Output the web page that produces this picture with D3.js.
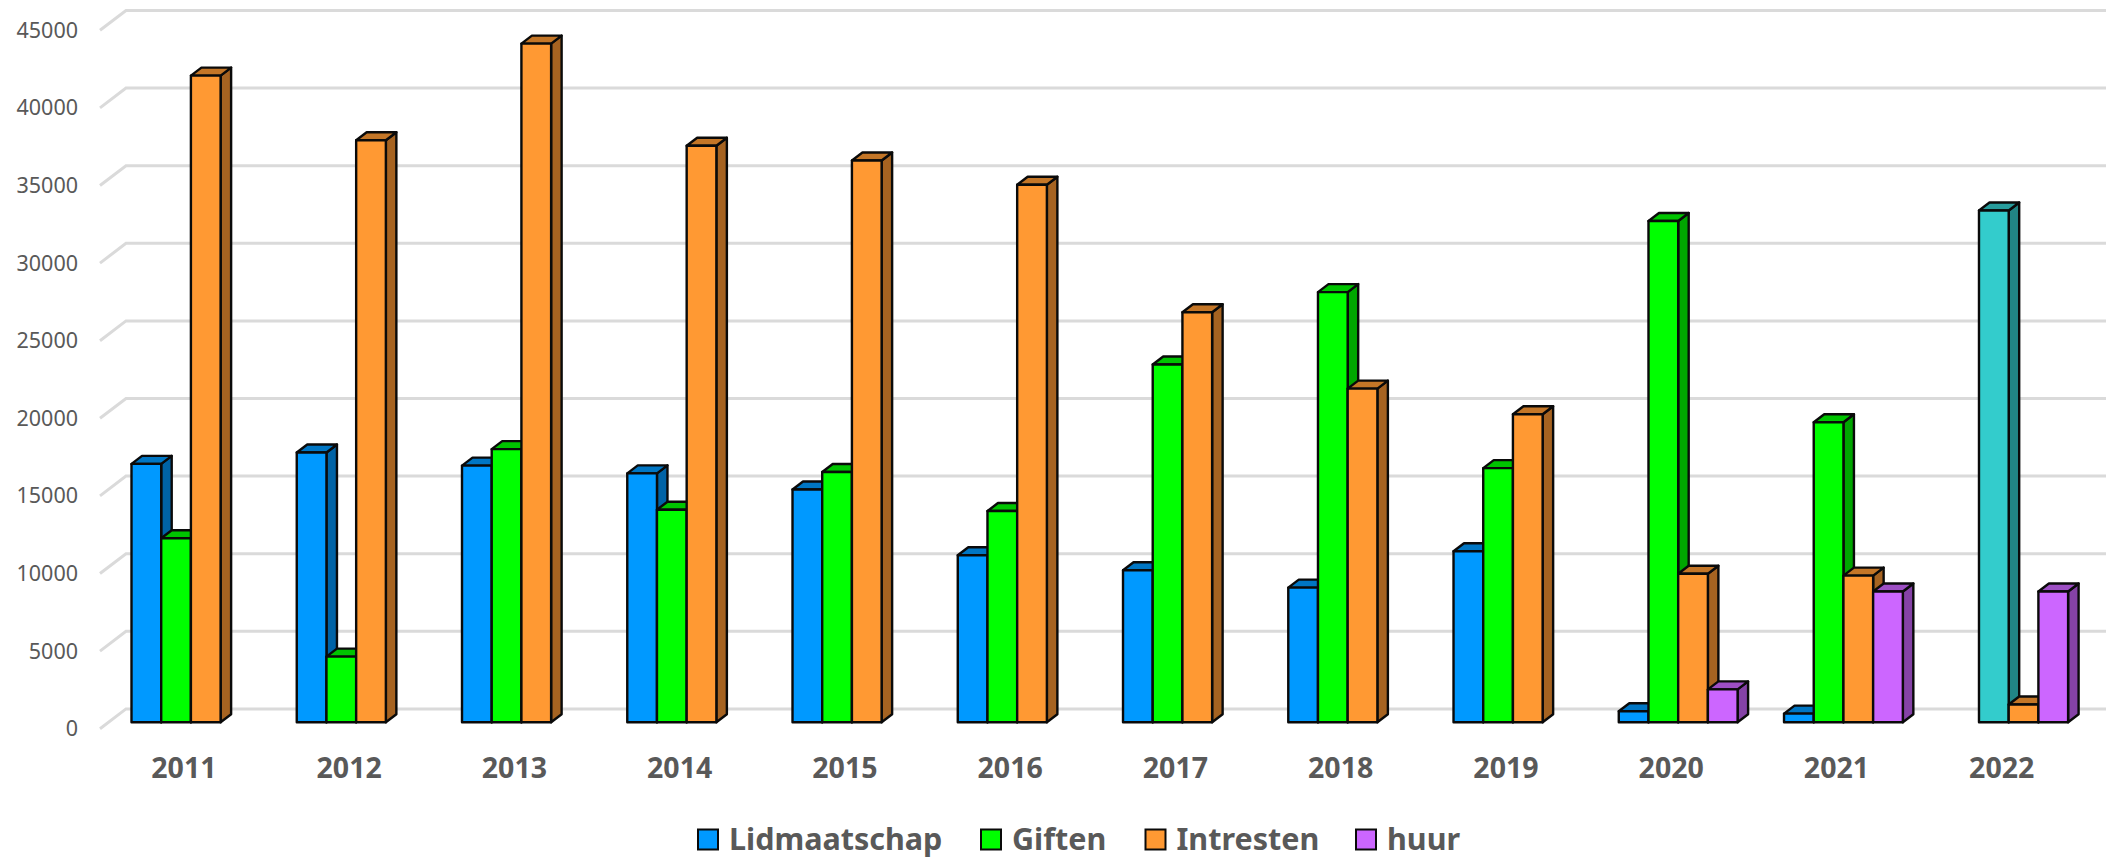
<!DOCTYPE html>
<html><head><meta charset="utf-8">
<script src="https://cdnjs.cloudflare.com/ajax/libs/d3/7.8.5/d3.min.js"></script>
<style>html,body{margin:0;padding:0;background:#fff}svg{display:block}text{font-family:"Noto Sans","Open Sans",sans-serif}</style>
</head><body><svg id="c" width="2106" height="858"></svg>
<script>
const years=["2011","2012","2013","2014","2015","2016","2017","2018","2019","2020","2021","2022"];
const seriesNames=["Lidmaatschap","Giften","Intresten","huur"];
const lidmaatschap=[16650,17380,16540,16040,15000,10760,9800,8680,11020,715,560,null];
const giften=[11860,4230,17600,13700,16130,13610,23050,27720,16380,32300,19330,32980];
const intresten=[41670,37500,43730,37150,36200,34640,26420,21500,19850,9570,9450,1150];
const huur=[null,null,null,null,null,null,null,null,null,2120,8425,8425];
const seriesValues=[lidmaatschap,giften,intresten,huur];
const seriesColors=["#0099ff","#00ff00","#ff9933","#cc66ff"];
const overrideColor={series:"Giften",year:"2022",color:"#33cccc"};
const yTicks=d3.range(0,45001,5000);

const W=2106,base=722.3,top45=base-698.4,dx=10.5,dy=8;
const svg=d3.select("#c");
const x0=d3.scaleBand().domain(years).range([131.5,2068.1]).paddingInner(0.281).paddingOuter(0);
const x1=d3.scaleBand().domain(seriesNames).range([0,x0.bandwidth()]);
const y=d3.scaleLinear().domain([0,45000]).range([base,top45]);

// walls' gridlines
svg.append("g").selectAll("path").data(yTicks).join("path")
  .attr("fill","none").attr("stroke","#dadada").attr("stroke-width",3)
  .attr("d",v=>`M100,${y(v)+6.4}L126,${y(v)-13.4}H${W}`);

// y labels
const ax=svg.append("g").attr("transform",`translate(78,${6.5})`)
  .call(d3.axisLeft(y).tickValues(yTicks).tickSize(0).tickPadding(0).tickFormat(d3.format("d")));
ax.select(".domain").remove();
ax.selectAll("text").attr("fill","#595959").style("font-size","21.5px");
ax.attr("font-family",null);

// x labels
const bx=svg.append("g").attr("transform",`translate(-7,${base+27})`)
  .call(d3.axisBottom(x0).tickSize(0).tickPadding(8));
bx.select(".domain").remove();
bx.selectAll("text").attr("fill","#595959").style("font-size","28.5px").style("font-weight","700");
bx.attr("font-family",null);

// 3D bars
const shade=(c,k)=>{const r=d3.rgb(c);return d3.rgb(r.r*k,r.g*k,r.b*k).formatHex();};
const bars=[];
years.forEach((yr,i)=>seriesNames.forEach((s,j)=>{
  const v=seriesValues[j][i];
  if(v==null)return;
  const color=(overrideColor.series===s&&overrideColor.year===yr)?overrideColor.color:seriesColors[j];
  bars.push({yr,s,v,color});
}));
const g=svg.append("g").attr("stroke","#0a0a0a").attr("stroke-width",2.4).attr("stroke-linejoin","round");
const bar=g.selectAll("g").data(bars).join("g");
const X=d=>x0(d.yr)+x1(d.s), BW=x1.bandwidth();
bar.append("path").attr("fill",d=>shade(d.color,0.65))
  .attr("d",d=>`M${X(d)+BW},${y(d.v)}l${dx},${-dy}V${base-dy}l${-dx},${dy}Z`);
bar.append("path").attr("fill",d=>shade(d.color,0.77))
  .attr("d",d=>`M${X(d)},${y(d.v)}l${dx},${-dy}h${BW}l${-dx},${dy}Z`);
bar.append("rect").attr("fill",d=>d.color)
  .attr("x",X).attr("y",d=>y(d.v)).attr("width",BW).attr("height",d=>base-y(d.v));

// legend
const legendX=[698,981,1145.5,1356];
const lg=svg.append("g").selectAll("g").data(seriesNames).join("g")
  .attr("transform",(d,i)=>`translate(${legendX[i]},0)`);
lg.append("rect").attr("x",0).attr("y",829.5).attr("width",20).attr("height",20)
  .attr("fill",(d,i)=>seriesColors[i]).attr("stroke","#0a0a0a").attr("stroke-width",2);
lg.append("text").attr("x",31).attr("y",850).text(d=>d)
  .attr("fill","#595959").style("font-size","30.5px").style("font-weight","700");
</script></body></html>
